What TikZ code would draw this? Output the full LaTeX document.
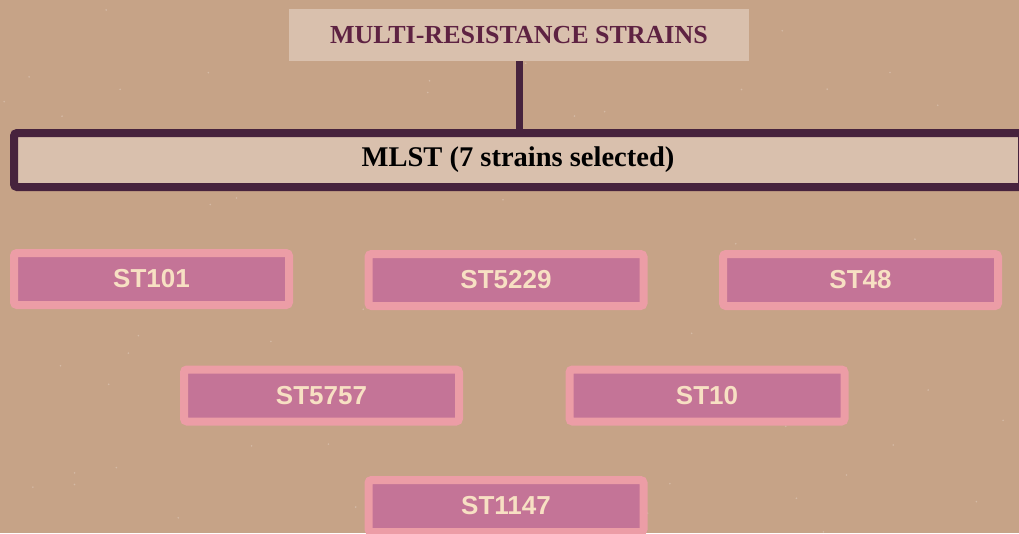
\documentclass[tikz,border=0pt]{standalone}
\usepackage{fontspec}
\setmainfont{Liberation Serif}
\newfontfamily\boxfont{Liberation Sans}
\definecolor{bgtan}{HTML}{C6A387}
\definecolor{palebox}{HTML}{D9C0AD}
\definecolor{maroontext}{HTML}{5E2242}
\definecolor{plumframe}{HTML}{47233D}
\definecolor{pinkframe}{HTML}{EC9DA6}
\definecolor{mauvefill}{HTML}{C47497}
\definecolor{creamtext}{HTML}{F7E0C3}
\tikzset{
  titlebox/.style={fill=palebox, text=maroontext, font=\fontsize{26}{30}\selectfont\bfseries,
    minimum width=460pt, minimum height=52pt, inner sep=0pt},
  bandbox/.style={fill=palebox, draw=plumframe, line width=8pt, rounded corners=3pt,
    text=black, font=\fontsize{28.5}{32}\selectfont\bfseries,
    minimum width=1008pt, minimum height=54pt, inner sep=0pt},
  strainbox/.style={fill=mauvefill, draw=pinkframe, line width=8pt, rounded corners=3pt,
    text=creamtext, font=\boxfont\fontsize{26}{30}\selectfont\bfseries,
    minimum width=275pt, minimum height=52pt, inner sep=0pt},
  link/.style={draw=plumframe, line width=7pt},
  speck/.style={fill=white, opacity=0.25}
}
\begin{document}
\begin{tikzpicture}[x=1pt,y=-1pt]
  \useasboundingbox (0,0) rectangle (1019,533);
  \fill[bgtan] (0,0) rectangle (1019,533);
  % faint texture on the backdrop
  \pgfmathsetseed{7}
  \foreach \i in {1,...,70}{
    \pgfmathsetmacro{\px}{rnd*1019}
    \pgfmathsetmacro{\py}{rnd*533}
    \fill[speck] (\px,\py) circle (0.9pt);
  }

  \node[titlebox] (top) at (519,35) {MULTI-RESISTANCE STRAINS};
  \node[bandbox] (mlst) at (518,160) {MLST (7 strains selected)};
  \draw[link] (top.south) -- (top.south |- mlst.north);

  \node[strainbox] (st101)  at (151.5,279) {ST101};
  \node[strainbox] (st5229) at (506,280) {ST5229};
  \node[strainbox] (st48)   at (860.5,280) {ST48};
  \node[strainbox] (st5757) at (321.5,395.5) {ST5757};
  \node[strainbox] (st10)   at (707,395.5) {ST10};
  \node[strainbox] (st1147) at (506,506) {ST1147};
\end{tikzpicture}
\end{document}
